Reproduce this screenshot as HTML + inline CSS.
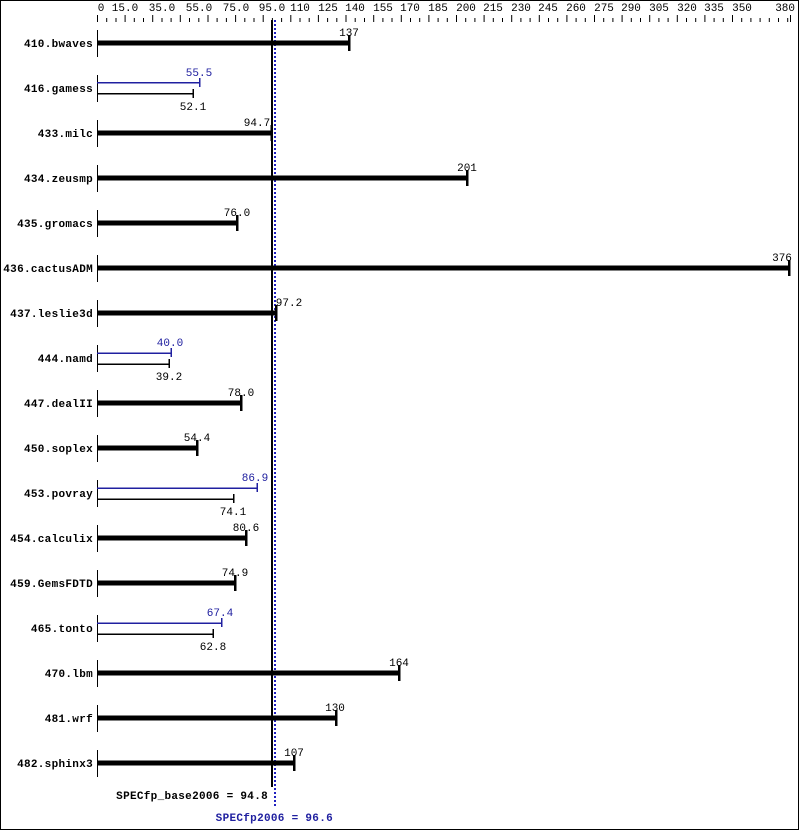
<!DOCTYPE html>
<html><head><meta charset="utf-8"><style>
html,body{margin:0;padding:0;background:#fff}
svg{display:block}
text{font-family:"Liberation Mono","DejaVu Sans Mono",monospace;font-size:11px}
.l{font-weight:bold;text-anchor:end;letter-spacing:0.3px}
.v{text-anchor:middle}
.b{fill:#2020a0}
</style></head><body>
<svg width="799" height="831" xmlns="http://www.w3.org/2000/svg">
<rect x="0.5" y="0.5" width="798" height="829" fill="#fff" stroke="#000"/>
<g fill="#000">
<text x="101" y="11" class="v">0</text><text x="125" y="11" class="v">15.0</text><text x="162" y="11" class="v">35.0</text><text x="199" y="11" class="v">55.0</text><text x="236" y="11" class="v">75.0</text><text x="272" y="11" class="v">95.0</text><text x="300" y="11" class="v">110</text><text x="328" y="11" class="v">125</text><text x="355" y="11" class="v">140</text><text x="383" y="11" class="v">155</text><text x="410" y="11" class="v">170</text><text x="438" y="11" class="v">185</text><text x="466" y="11" class="v">200</text><text x="493" y="11" class="v">215</text><text x="521" y="11" class="v">230</text><text x="548" y="11" class="v">245</text><text x="576" y="11" class="v">260</text><text x="604" y="11" class="v">275</text><text x="631" y="11" class="v">290</text><text x="659" y="11" class="v">305</text><text x="687" y="11" class="v">320</text><text x="714" y="11" class="v">335</text><text x="742" y="11" class="v">350</text><text x="795" y="11" style="text-anchor:end">380</text>
</g>
<g stroke="#000" stroke-width="1">
<path d="M97.5 15V22M106.7 18V22M116 18V22M125.1 15V22M134.3 18V22M143.5 18V22M152.7 15V22M162 18V22M171.1 18V22M180.3 15V22M189.5 18V22M198.8 18V22M208 15V22M217.1 18V22M226.4 18V22M235.6 15V22M244.8 18V22M254 18V22M263.2 15V22M272.4 18V22M281.6 18V22M290.8 15V22M300 18V22M309.2 18V22M318.4 15V22M327.6 18V22M336.8 18V22M346 15V22M355.2 18V22M364.5 18V22M373.7 15V22M382.9 18V22M392 18V22M401.3 15V22M410.5 18V22M419.7 18V22M428.9 15V22M438.1 18V22M447.3 18V22M456.5 15V22M465.7 18V22M474.9 18V22M484.1 15V22M493.3 18V22M502.5 18V22M511.7 15V22M520.9 18V22M530.1 18V22M539.3 15V22M548.5 18V22M557.7 18V22M566.9 15V22M576.1 18V22M585.3 18V22M594.5 15V22M603.7 18V22M612.9 18V22M622.1 15V22M631.3 18V22M640.5 18V22M649.7 15V22M658.9 18V22M668.1 18V22M677.3 15V22M686.5 18V22M695.7 18V22M704.9 15V22M714.1 18V22M723.3 18V22M732.5 15V22M741.7 18V22M750.9 18V22M760.1 18V22M769.3 18V22M778.5 18V22M787.7 18V22M790.5 15V22"/>
</g>
<rect x="271" y="20" width="2" height="767" fill="#000"/>
<line x1="275" y1="20" x2="275" y2="808" stroke="#2020c0" stroke-width="2" stroke-dasharray="2,2"/>

<g fill="#000">
<text x="93" y="47" class="l">410.bwaves</text><rect x="97" y="30" width="1" height="27"/><rect x="97" y="40.5" width="252" height="5"/><rect x="348" y="35" width="2.5" height="16"/><text x="349" y="36" class="v">137</text>
<text x="93" y="137" class="l">433.milc</text><rect x="97" y="120" width="1" height="27"/><rect x="97" y="130.5" width="174" height="5"/><rect x="270.5" y="125" width="2.5" height="16"/><text x="257" y="126" class="v">94.7</text>
<text x="93" y="182" class="l">434.zeusmp</text><rect x="97" y="165" width="1" height="27"/><rect x="97" y="175.5" width="370" height="5"/><rect x="466" y="170" width="2.5" height="16"/><text x="467" y="171" class="v">201</text>
<text x="93" y="227" class="l">435.gromacs</text><rect x="97" y="210" width="1" height="27"/><rect x="97" y="220.5" width="140" height="5"/><rect x="236" y="215" width="2.5" height="16"/><text x="237" y="216" class="v">76.0</text>
<text x="93" y="272" class="l">436.cactusADM</text><rect x="97" y="255" width="1" height="27"/><rect x="97" y="265.5" width="692" height="5"/><rect x="788" y="260" width="2.5" height="16"/><text x="782" y="261" class="v">376</text>
<text x="93" y="317" class="l">437.leslie3d</text><rect x="97" y="300" width="1" height="27"/><rect x="97" y="310.5" width="179" height="5"/><rect x="275" y="305" width="2.5" height="16"/><text x="289" y="306" class="v">97.2</text>
<text x="93" y="407" class="l">447.dealII</text><rect x="97" y="390" width="1" height="27"/><rect x="97" y="400.5" width="144" height="5"/><rect x="240" y="395" width="2.5" height="16"/><text x="241" y="396" class="v">78.0</text>
<text x="93" y="452" class="l">450.soplex</text><rect x="97" y="435" width="1" height="27"/><rect x="97" y="445.5" width="100" height="5"/><rect x="196" y="440" width="2.5" height="16"/><text x="197" y="441" class="v">54.4</text>
<text x="93" y="542" class="l">454.calculix</text><rect x="97" y="525" width="1" height="27"/><rect x="97" y="535.5" width="149" height="5"/><rect x="245" y="530" width="2.5" height="16"/><text x="246" y="531" class="v">80.6</text>
<text x="93" y="587" class="l">459.GemsFDTD</text><rect x="97" y="570" width="1" height="27"/><rect x="97" y="580.5" width="138" height="5"/><rect x="234" y="575" width="2.5" height="16"/><text x="235" y="576" class="v">74.9</text>
<text x="93" y="677" class="l">470.lbm</text><rect x="97" y="660" width="1" height="27"/><rect x="97" y="670.5" width="302" height="5"/><rect x="398" y="665" width="2.5" height="16"/><text x="399" y="666" class="v">164</text>
<text x="93" y="722" class="l">481.wrf</text><rect x="97" y="705" width="1" height="27"/><rect x="97" y="715.5" width="239" height="5"/><rect x="335" y="710" width="2.5" height="16"/><text x="335" y="711" class="v">130</text>
<text x="93" y="767" class="l">482.sphinx3</text><rect x="97" y="750" width="1" height="27"/><rect x="97" y="760.5" width="197" height="5"/><rect x="293" y="755" width="2.5" height="16"/><text x="294" y="756" class="v">107</text>

<text x="93" y="92" class="l">416.gamess</text><rect x="97" y="75" width="1" height="27"/>
<rect x="97" y="82" width="103" height="1.5" class="b"/><rect x="199" y="78" width="1.5" height="9" class="b"/><text x="199" y="76" class="v b">55.5</text>
<rect x="97" y="93" width="96" height="1.5"/><rect x="192.5" y="89" width="1.5" height="9"/><text x="193" y="110" class="v">52.1</text>

<text x="93" y="362" class="l">444.namd</text><rect x="97" y="345" width="1" height="27"/>
<rect x="97" y="352.5" width="74" height="1.5" class="b"/><rect x="170.5" y="348" width="1.5" height="9" class="b"/><text x="170" y="346" class="v b">40.0</text>
<rect x="97" y="363.5" width="72" height="1.5"/><rect x="168.5" y="359" width="1.5" height="9"/><text x="169" y="380" class="v">39.2</text>

<text x="93" y="497" class="l">453.povray</text><rect x="97" y="480" width="1" height="27"/>
<rect x="97" y="487.5" width="160" height="1.5" class="b"/><rect x="256.5" y="483" width="1.5" height="9" class="b"/><text x="255" y="481" class="v b">86.9</text>
<rect x="97" y="498.5" width="137" height="1.5"/><rect x="233" y="494" width="1.5" height="9"/><text x="233" y="515" class="v">74.1</text>

<text x="93" y="632" class="l">465.tonto</text><rect x="97" y="615" width="1" height="27"/>
<rect x="97" y="622.5" width="125" height="1.5" class="b"/><rect x="221" y="618" width="1.5" height="9" class="b"/><text x="220" y="616" class="v b">67.4</text>
<rect x="97" y="633.5" width="116" height="1.5"/><rect x="212.5" y="629" width="1.5" height="9"/><text x="213" y="650" class="v">62.8</text>

<text x="268" y="799" class="l">SPECfp_base2006 = 94.8</text>
<text x="333" y="821" class="l b">SPECfp2006 = 96.6</text>
</g>
</svg>
</body></html>
